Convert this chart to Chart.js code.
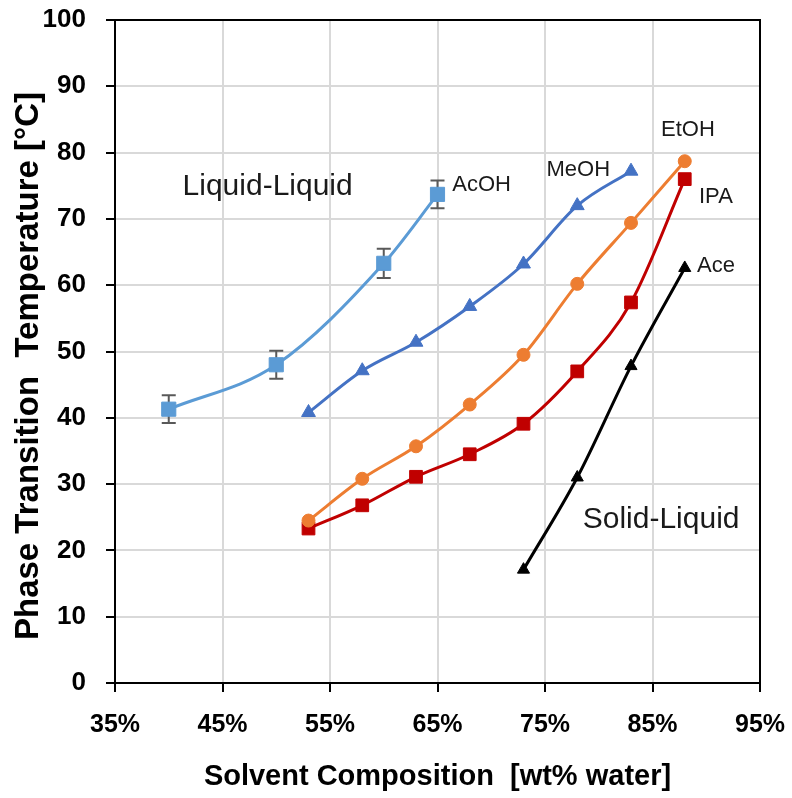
<!DOCTYPE html>
<html>
<head>
<meta charset="utf-8">
<script src="https://cdn.jsdelivr.net/npm/chart.js@4.4.1/dist/chart.umd.min.js"></script>
<style>
  html, body { margin: 0; padding: 0; background: #fff; }
  #wrap { width: 792px; height: 798px; }
</style>
</head>
<body>
<div id="wrap"><canvas id="chart"></canvas></div>
<script>
// data: x = wt% water, y = phase transition temperature (°C)
const acohX = [40, 50, 60, 65];
const acohY = [41.3, 48.0, 63.3, 73.7];
const acohErr = [2.1, 2.1, 2.2, 2.1];

const meohX = [53, 58, 63, 68, 73, 78, 83];
const meohY = [40.8, 47.1, 51.4, 56.8, 63.2, 72.0, 77.2];

const etohX = [53, 58, 63, 68, 73, 78, 83, 88];
const etohY = [24.5, 30.8, 35.7, 42.0, 49.5, 60.2, 69.4, 78.7];

const ipaX = [53, 58, 63, 68, 73, 78, 83, 88];
const ipaY = [23.3, 26.8, 31.1, 34.5, 39.1, 47.0, 57.4, 76.0];

const aceX = [73, 78, 83, 88];
const aceY = [17.1, 31.0, 47.8, 62.6];

const xMin = 35, xMax = 95, xStep = 10;
const yMin = 0, yMax = 100, yStep = 10;

const yTitle = 'Phase Transition  Temperature [°C]';
const xTitle = 'Solvent Composition  [wt% water]';

// in-plot labels (placed in data units)
const notes = [
  { text: 'Liquid-Liquid', x: 49.2, y: 74.8, size: 30 },
  { text: 'Solid-Liquid', x: 85.8, y: 24.7, size: 30 },
  { text: 'AcOH', x: 69.1, y: 75.1, size: 22 },
  { text: 'MeOH', x: 78.1, y: 77.4, size: 22 },
  { text: 'EtOH', x: 88.3, y: 83.4, size: 22 },
  { text: 'IPA', x: 90.9, y: 73.3, size: 22 },
  { text: 'Ace', x: 90.9, y: 62.9, size: 22 }
];

const FONT = "'Liberation Sans', Arial, sans-serif";

function pts(xs, ys) {
  return xs.map((x, i) => ({ x: x, y: ys[i] }));
}

function series(label, xs, ys, color, shape, r) {
  return {
    label: label,
    data: pts(xs, ys),
    showLine: true,
    borderColor: color,
    backgroundColor: color,
    borderWidth: 3,
    cubicInterpolationMode: 'monotone',
    pointStyle: shape,
    pointRadius: r,
    pointHoverRadius: r,
    pointBorderWidth: 1,
    pointBorderColor: color,
    pointBackgroundColor: color
  };
}

const framePlugin = {
  id: 'frame',
  beforeDatasetsDraw(chart) {
    const { ctx, chartArea: a, scales: { x, y } } = chart;
    ctx.save();
    ctx.strokeStyle = '#000';
    ctx.lineWidth = 2;
    ctx.strokeRect(a.left, a.top, a.right - a.left, a.bottom - a.top);

    // error bars on AcOH
    ctx.strokeStyle = '#595959';
    ctx.lineWidth = 2;
    acohX.forEach((xv, i) => {
      const px = x.getPixelForValue(xv);
      const top = y.getPixelForValue(acohY[i] + acohErr[i]);
      const bot = y.getPixelForValue(acohY[i] - acohErr[i]);
      ctx.beginPath();
      ctx.moveTo(px, top); ctx.lineTo(px, bot);
      ctx.moveTo(px - 7, top); ctx.lineTo(px + 7, top);
      ctx.moveTo(px - 7, bot); ctx.lineTo(px + 7, bot);
      ctx.stroke();
    });
    ctx.restore();
  },
  afterDatasetsDraw(chart) {
    const { ctx, scales: { x, y } } = chart;
    ctx.save();
    ctx.fillStyle = '#1a1a1a';
    ctx.textAlign = 'center';
    ctx.textBaseline = 'middle';
    notes.forEach(n => {
      ctx.font = n.size + 'px ' + FONT;
      ctx.fillText(n.text, x.getPixelForValue(n.x), y.getPixelForValue(n.y));
    });

    // y axis title, a bit below the axis middle as in the figure
    ctx.fillStyle = '#000';
    ctx.font = 'bold 33px ' + FONT;
    ctx.translate(29, 366);
    ctx.rotate(-Math.PI / 2);
    ctx.fillText(yTitle, 0, 0);
    ctx.restore();
  }
};

new Chart(document.getElementById('chart'), {
  type: 'scatter',
  data: {
    datasets: [
      series('AcOH', acohX, acohY, '#5B9BD5', 'rect', 10),
      series('MeOH', meohX, meohY, '#4472C4', 'triangle', 8),
      series('EtOH', etohX, etohY, '#ED7D31', 'circle', 6.5),
      series('IPA', ipaX, ipaY, '#C00000', 'rect', 9),
      series('Ace', aceX, aceY, '#000000', 'triangle', 7)
    ]
  },
  options: {
    responsive: true,
    maintainAspectRatio: false,
    animation: false,
    layout: { padding: { left: 10, right: 32, top: 20, bottom: 4 } },
    plugins: {
      legend: { display: false },
      tooltip: { enabled: false }
    },
    scales: {
      x: {
        type: 'linear',
        min: xMin, max: xMax,
        afterFit: s => { s.height = 111; s.paddingLeft = 0; s.paddingRight = 0; },
        ticks: {
          stepSize: xStep,
          padding: 18,
          color: '#000',
          font: { family: FONT, size: 25, weight: 'bold' },
          callback: v => v + '%'
        },
        grid: { color: '#d9d9d9', lineWidth: 2, tickLength: 9, tickColor: '#000', tickWidth: 2 },
        border: { color: '#000', width: 2 },
        title: {
          display: true,
          text: xTitle,
          color: '#000',
          padding: 0,
          font: { family: FONT, size: 29, weight: 'bold' }
        }
      },
      y: {
        min: yMin, max: yMax,
        afterFit: s => { s.width = 105; s.paddingTop = 0; s.paddingBottom = 0; },
        ticks: {
          stepSize: yStep,
          padding: 20,
          color: '#000',
          font: { family: FONT, size: 26, weight: 'bold' }
        },
        grid: { color: '#d9d9d9', lineWidth: 2, tickLength: 9, tickColor: '#000', tickWidth: 2 },
        border: { color: '#000', width: 2 }
      }
    }
  },
  plugins: [framePlugin]
});
</script>
</body>
</html>
